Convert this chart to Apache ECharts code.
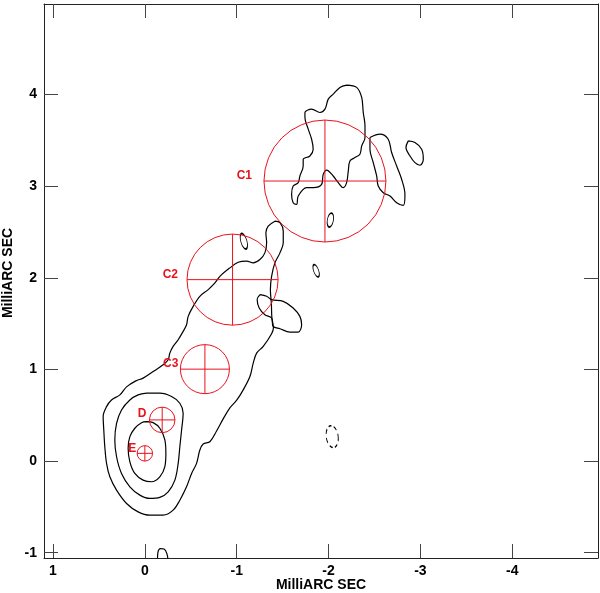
<!DOCTYPE html>
<html>
<head>
<meta charset="utf-8">
<script src="https://cdn.jsdelivr.net/npm/echarts@6/dist/echarts.min.js"></script>
<style>
    html, body { margin: 0; padding: 0; background: #fff; }
    #chart { width: 600px; height: 593px; }
</style>
</head>
<body>
<div id="chart"></div>
<script>
    // tick values (milliarcsec)
    var xTicks = [-4, -3, -2, -1, 0, 1];
    var yTicks = [-1, 0, 1, 2, 3, 4];

    // lowest contour around core + jet up to C2
    var outerJet = [
        [-1.416, 2.618], [-1.471, 2.601], [-1.507, 2.509], [-1.507, 2.382], [-1.471, 2.272],
        [-1.416, 2.163], [-1.380, 2.016], [-1.367, 1.871], [-1.378, 1.707], [-1.383, 1.565],
        [-1.400, 1.455], [-1.380, 1.389], [-1.289, 1.251], [-1.217, 1.178], [-1.180, 1.069],
        [-1.144, 0.922], [-1.071, 0.777], [-1.002, 0.667], [-0.926, 0.580], [-0.853, 0.460],
        [-0.781, 0.328], [-0.708, 0.211], [-0.635, 0.186], [-0.599, 0.120], [-0.563, -0.025],
        [-0.509, -0.135], [-0.454, -0.281], [-0.381, -0.427], [-0.308, -0.536], [-0.199, -0.591],
        [-0.054, -0.591], [0.073, -0.555], [0.199, -0.463], [0.308, -0.317], [0.381, -0.172],
        [0.417, -0.025], [0.436, 0.156], [0.447, 0.339], [0.454, 0.485], [0.417, 0.594],
        [0.363, 0.667], [0.272, 0.722], [0.199, 0.810], [0.098, 0.875], [0.019, 0.905],
        [-0.090, 0.977], [-0.199, 1.050], [-0.254, 1.105], [-0.272, 1.178], [-0.308, 1.251],
        [-0.363, 1.324], [-0.417, 1.415], [-0.454, 1.488], [-0.472, 1.579], [-0.526, 1.688],
        [-0.599, 1.798], [-0.690, 1.871], [-0.763, 1.944], [-0.817, 2.016], [-0.926, 2.108],
        [-1.016, 2.170], [-1.108, 2.181], [-1.180, 2.163], [-1.253, 2.199], [-1.307, 2.272],
        [-1.326, 2.382], [-1.318, 2.491], [-1.343, 2.564], [-1.416, 2.618]
    ];
    var middleCore = [
        [-0.019, 0.741], [-0.163, 0.741], [-0.291, 0.704], [-0.381, 0.631], [-0.417, 0.522],
        [-0.400, 0.339], [-0.381, 0.156], [-0.363, -0.025], [-0.327, -0.208], [-0.254, -0.336],
        [-0.163, -0.397], [-0.054, -0.408], [0.054, -0.372], [0.163, -0.281], [0.254, -0.135],
        [0.308, 0.047], [0.327, 0.230], [0.308, 0.412], [0.254, 0.558], [0.163, 0.667],
        [0.073, 0.722], [-0.019, 0.741]
    ];
    var innerCore = [
        [-0.019, 0.430], [-0.090, 0.419], [-0.163, 0.358], [-0.218, 0.230], [-0.229, 0.084],
        [-0.218, -0.062], [-0.163, -0.172], [-0.073, -0.226], [0.019, -0.208], [0.109, -0.135],
        [0.163, -0.008], [0.182, 0.139], [0.163, 0.266], [0.109, 0.358], [0.036, 0.419],
        [-0.019, 0.430]
    ];
    var blobC1 = [
        [-2.197, 4.103], [-2.306, 4.078], [-2.361, 3.968], [-2.378, 3.804], [-2.397, 3.658],
        [-2.397, 3.531], [-2.361, 3.439], [-2.342, 3.348], [-2.288, 3.312], [-2.233, 3.275],
        [-2.215, 3.165], [-2.197, 3.038], [-2.160, 2.984], [-2.106, 3.038], [-2.051, 3.111],
        [-1.979, 3.176], [-1.942, 3.129], [-1.925, 3.020], [-1.833, 2.984], [-1.761, 2.984],
        [-1.670, 2.892], [-1.653, 2.801], [-1.615, 2.820], [-1.598, 2.910], [-1.615, 3.001],
        [-1.670, 3.038], [-1.688, 3.111], [-1.724, 3.220], [-1.724, 3.293], [-1.797, 3.329],
        [-1.833, 3.403], [-1.816, 3.512], [-1.779, 3.622], [-1.743, 3.749], [-1.743, 3.804],
        [-1.816, 3.840], [-1.906, 3.804], [-1.961, 3.840], [-1.997, 3.950], [-2.051, 4.004],
        [-2.124, 4.078], [-2.197, 4.103]
    ];
    var blobEast = [
        [-2.451, 3.531], [-2.560, 3.567], [-2.650, 3.512], [-2.687, 3.367], [-2.742, 3.220],
        [-2.796, 3.075], [-2.832, 2.910], [-2.814, 2.790], [-2.742, 2.820], [-2.669, 2.892],
        [-2.596, 2.929], [-2.541, 3.001], [-2.524, 3.111], [-2.487, 3.257], [-2.451, 3.403],
        [-2.451, 3.531]
    ];
    var blobFar = [
        [-2.868, 3.494], [-2.941, 3.476], [-3.014, 3.403], [-3.032, 3.293], [-2.996, 3.228],
        [-2.941, 3.257], [-2.887, 3.329], [-2.843, 3.421], [-2.868, 3.494]
    ];
    var blobC2 = [
        [-1.253, 1.816], [-1.326, 1.798], [-1.380, 1.762], [-1.507, 1.743], [-1.615, 1.671],
        [-1.688, 1.579], [-1.707, 1.488], [-1.670, 1.408], [-1.580, 1.408], [-1.471, 1.444],
        [-1.397, 1.469], [-1.380, 1.561], [-1.307, 1.597], [-1.245, 1.671], [-1.223, 1.762],
        [-1.253, 1.816]
    ];
    var edgeSouth = [
        [-0.137, -1.10], [-0.142, -1.00], [-0.170, -0.955], [-0.210, -0.960], [-0.240, -1.010], [-0.255, -1.10]
    ];

    // small islands: centre x, centre y, half width, half height, tilt (deg)
    var islands = [
        [-2.020, 2.630, 0.033, 0.077, -10],
        [-1.078, 2.399, 0.033, 0.088, 16],
        [-1.865, 2.077, 0.027, 0.071, 20]
    ];
    var negIslands = [
        [-2.040, 0.266, 0.065, 0.120, 8]
    ];

    // model components
    var compNames = ['C1', 'C2', 'C3', 'D', 'E'];
    var compX = [-1.961, -0.955, -0.654, -0.189, 0.0];
    var compY = [3.056, 1.980, 1.003, 0.449, 0.084];
    var compR = [0.664, 0.496, 0.267, 0.139, 0.084];

    var RED = '#e8121c';
    var FONT = '"Liberation Sans", Arial, Helvetica, sans-serif';
    // label gap from circle edge, vertical shift (px)
    var labelShift = [[12, -5], [9, -5], [2, -5], [3, -6], [1, -5]];

    function contour(data) {
        return {
            type: 'line',
            data: data,
            showSymbol: false,
            smooth: 0.35,
            silent: true,
            clip: true,
            lineStyle: { color: '#000', width: 1.2 },
            z: 2
        };
    }

    function ellipseRenderer(dashed) {
        return function (params, api) {
            var c = api.coord([api.value(0), api.value(1)]);
            var s = api.size([api.value(2), api.value(3)]);
            var rx = Math.abs(s[0]), ry = Math.abs(s[1]);
            return {
                type: 'circle',
                x: c[0],
                y: c[1],
                rotation: api.value(4) * Math.PI / 180,
                scaleX: rx / ry,
                shape: { cx: 0, cy: 0, r: ry },
                style: {
                    fill: 'none',
                    stroke: '#000',
                    lineWidth: 1.2,
                    strokeNoScale: true,
                    lineDash: dashed ? [4, 3] : null
                }
            };
        };
    }

    function renderComp(params, api) {
        var c = api.coord([api.value(0), api.value(1)]);
        var r = Math.abs(api.size([api.value(2), 0])[0]);
        var sh = labelShift[params.dataIndex];
        var line = { stroke: RED, lineWidth: 1 };
        return {
            type: 'group',
            children: [
                { type: 'circle', shape: { cx: c[0], cy: c[1], r: r }, style: { fill: 'none', stroke: RED, lineWidth: 1 } },
                { type: 'line', shape: { x1: c[0] - r, y1: c[1], x2: c[0] + r, y2: c[1] }, style: line },
                { type: 'line', shape: { x1: c[0], y1: c[1] - r, x2: c[0], y2: c[1] + r }, style: line },
                {
                    type: 'text',
                    x: c[0] - r - sh[0],
                    y: c[1] + sh[1],
                    style: {
                        text: compNames[params.dataIndex],
                        fill: RED,
                        font: 'bold 12px ' + FONT,
                        align: 'right',
                        verticalAlign: 'middle'
                    }
                }
            ]
        };
    }

    var xMin = -4.934, xMax = 1.098;
    var yMin = -1.058, yMax = 4.988;

    var axisLine = { onZero: false, lineStyle: { color: '#222', width: 1 } };
    var tickStyle = { color: '#444', width: 1 };
    var labelStyle = { color: '#000', fontWeight: 'bold', fontSize: 14, fontFamily: FONT };
    var nameStyle = { color: '#000', fontWeight: 'bold', fontSize: 14, fontFamily: FONT };

    var chart = echarts.init(document.getElementById('chart'), null, { renderer: 'canvas' });
    chart.setOption({
        backgroundColor: '#fff',
        animation: false,
        grid: { left: 44, right: 2, top: 4, bottom: 35, containLabel: false, outerBoundsMode: 'none' },
        xAxis: [
            {
                type: 'value', inverse: true, min: xMin, max: xMax, position: 'bottom',
                axisLine: axisLine,
                axisTick: { inside: true, length: 14, customValues: xTicks, lineStyle: tickStyle },
                axisLabel: Object.assign({ customValues: xTicks, margin: 6 }, labelStyle),
                splitLine: { show: false },
                name: 'MilliARC SEC', nameLocation: 'middle', nameGap: 20, nameMoveOverlap: false,
                nameTextStyle: nameStyle
            },
            {
                type: 'value', inverse: true, min: xMin, max: xMax, position: 'top',
                axisLine: axisLine,
                axisTick: { inside: true, length: 14, customValues: xTicks, lineStyle: tickStyle },
                axisLabel: { show: false },
                splitLine: { show: false }
            }
        ],
        yAxis: [
            {
                type: 'value', min: yMin, max: yMax, position: 'left',
                axisLine: axisLine,
                axisTick: { inside: true, length: 14, customValues: yTicks, lineStyle: tickStyle },
                axisLabel: Object.assign({ customValues: yTicks, margin: 7 }, labelStyle),
                splitLine: { show: false },
                name: 'MilliARC SEC', nameLocation: 'middle', nameGap: 29, nameRotate: 90,
                nameMoveOverlap: false,
                nameTextStyle: Object.assign({ padding: [0, 0, 0, 16] }, nameStyle)
            },
            {
                type: 'value', min: yMin, max: yMax, position: 'right',
                axisLine: axisLine,
                axisTick: { inside: true, length: 14, customValues: yTicks, lineStyle: tickStyle },
                axisLabel: { show: false },
                splitLine: { show: false }
            }
        ],
        series: [
            contour(outerJet),
            contour(middleCore),
            contour(innerCore),
            contour(blobC1),
            contour(blobEast),
            contour(blobFar),
            contour(blobC2),
            contour(edgeSouth),
            { type: 'custom', renderItem: ellipseRenderer(false), data: islands, silent: true, z: 2 },
            { type: 'custom', renderItem: ellipseRenderer(true), data: negIslands, silent: true, z: 2 },
            {
                type: 'custom',
                renderItem: renderComp,
                data: compX.map(function (x, i) { return [x, compY[i], compR[i]]; }),
                silent: true,
                z: 3
            }
        ]
    });
</script>
</body>
</html>
